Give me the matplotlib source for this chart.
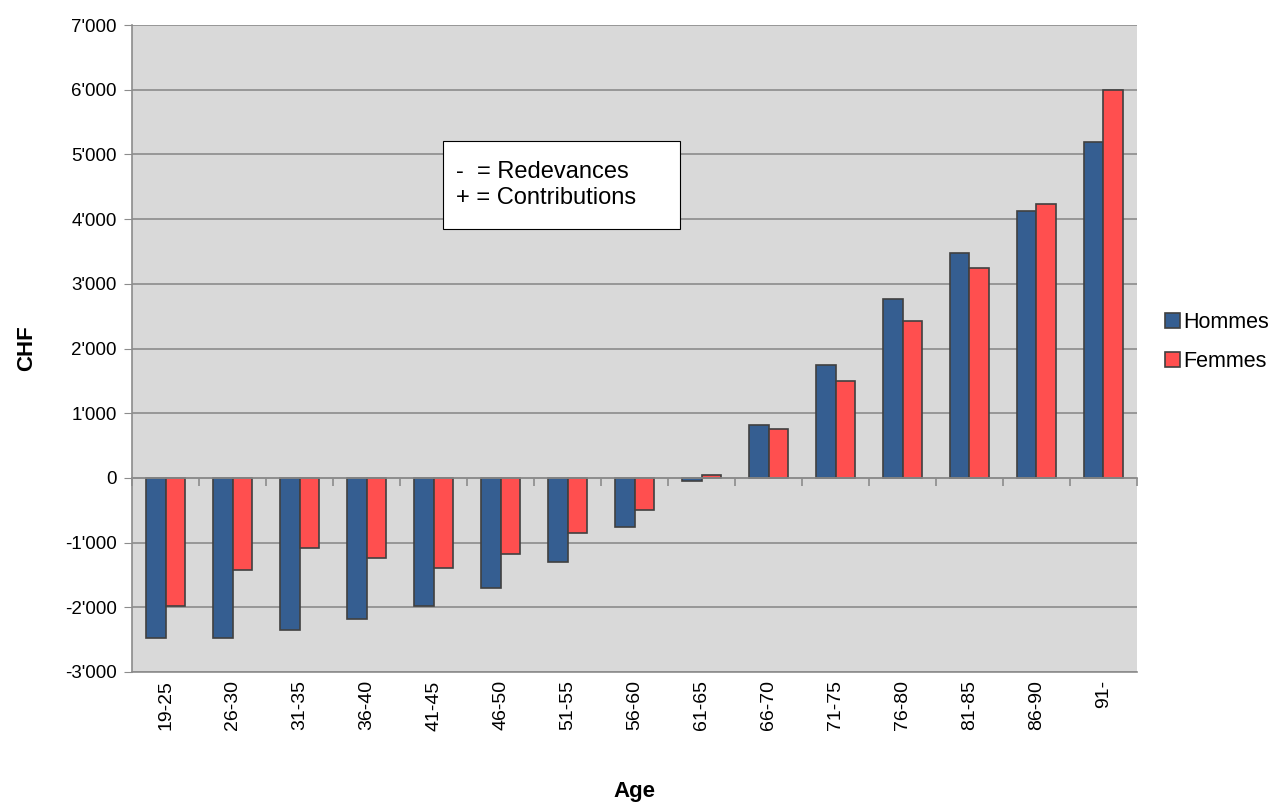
import numpy as np
import matplotlib
matplotlib.use("Agg")
import matplotlib.pyplot as plt
from matplotlib.ticker import FuncFormatter, MultipleLocator, FixedLocator

plt.rcParams["font.family"] = ["Liberation Sans", "DejaVu Sans"]

ages = ["19-25", "26-30", "31-35", "36-40", "41-45", "46-50", "51-55", "56-60",
        "61-65", "66-70", "71-75", "76-80", "81-85", "86-90", "91-"]
hommes = [-2480, -2475, -2345, -2175, -1975, -1705, -1305, -765,
          -50, 820, 1740, 2770, 3480, 4125, 5190]
femmes = [-1980, -1425, -1085, -1245, -1395, -1175, -845, -495,
          50, 750, 1500, 2430, 3245, 4235, 5995]

GRID = "#8c8c8c"
BLUE = "#355e91"
RED = "#ff4f4f"
EDGE = "#404040"

fig = plt.figure(figsize=(12.83, 8.07), dpi=100)
ax = fig.add_axes([0.1029, 0.1673, 0.7833, 0.8017])
ax.set_facecolor("#d9d9d9")

x = np.arange(len(ages))
w = 0.29
ax.bar(x - w / 2, hommes, w, color=BLUE, edgecolor=EDGE, linewidth=1.2, label="Hommes", zorder=3)
ax.bar(x + w / 2, femmes, w, color=RED, edgecolor=EDGE, linewidth=1.2, label="Femmes", zorder=3)

ax.set_xlim(-0.5, len(ages) - 0.5)
ax.set_ylim(-3000, 7000)
ax.yaxis.set_major_locator(MultipleLocator(1000))
ax.yaxis.set_major_formatter(FuncFormatter(lambda v, p: f"{v:,.0f}".replace(",", "'")))
ax.grid(axis="y", color=GRID, linewidth=1.2, zorder=0)
ax.set_axisbelow(True)
ax.tick_params(axis="y", direction="out", length=6, color=GRID, labelsize=13.5, pad=5)

# axe horizontal au niveau du zéro, avec traits entre les catégories
ax.spines["bottom"].set_position(("data", 0))
ax.spines["bottom"].set_color(GRID)
ax.spines["bottom"].set_linewidth(1.2)
ax.spines["bottom"].set_zorder(4)
ax.xaxis.set_major_locator(FixedLocator(np.arange(len(ages) + 1) - 0.5))
ax.xaxis.set_major_formatter(FuncFormatter(lambda v, p: ""))
ax.tick_params(axis="x", direction="out", length=6, color=GRID, width=1.2)
ax.spines["left"].set_color(GRID)
ax.spines["left"].set_linewidth(1.2)
ax.spines["right"].set_visible(False)
ax.spines["top"].set_visible(False)

# libellés des âges en bas de la zone
sec = ax.secondary_xaxis(0)
sec.set_xticks(x)
sec.set_xticklabels(ages, rotation=90, fontsize=14)
sec.tick_params(length=0, pad=6)
sec.spines["bottom"].set_color(GRID)
sec.spines["bottom"].set_linewidth(1.2)
sec.set_xlabel("Age", fontsize=16, fontweight="bold", labelpad=36)

ax.set_ylabel("CHF", fontsize=16, fontweight="bold", labelpad=20)

box = plt.Rectangle((0.309, 0.685), 0.236, 0.136, transform=ax.transAxes,
                    facecolor="white", edgecolor="black", linewidth=0.8, zorder=4)
ax.add_patch(box)
ax.text(0.322, 0.753, "-  = Redevances\n+ = Contributions", transform=ax.transAxes,
        fontsize=17, va="center", ha="left", linespacing=1.25, zorder=5)

ax.legend(loc="center left", bbox_to_anchor=(1.0, 0.51), frameon=False, fontsize=15.5,
          handlelength=0.7, handleheight=0.7, handletextpad=0.15, labelspacing=0.8,
          borderaxespad=0.9)

fig.savefig("out.png", dpi=100, facecolor="white")
